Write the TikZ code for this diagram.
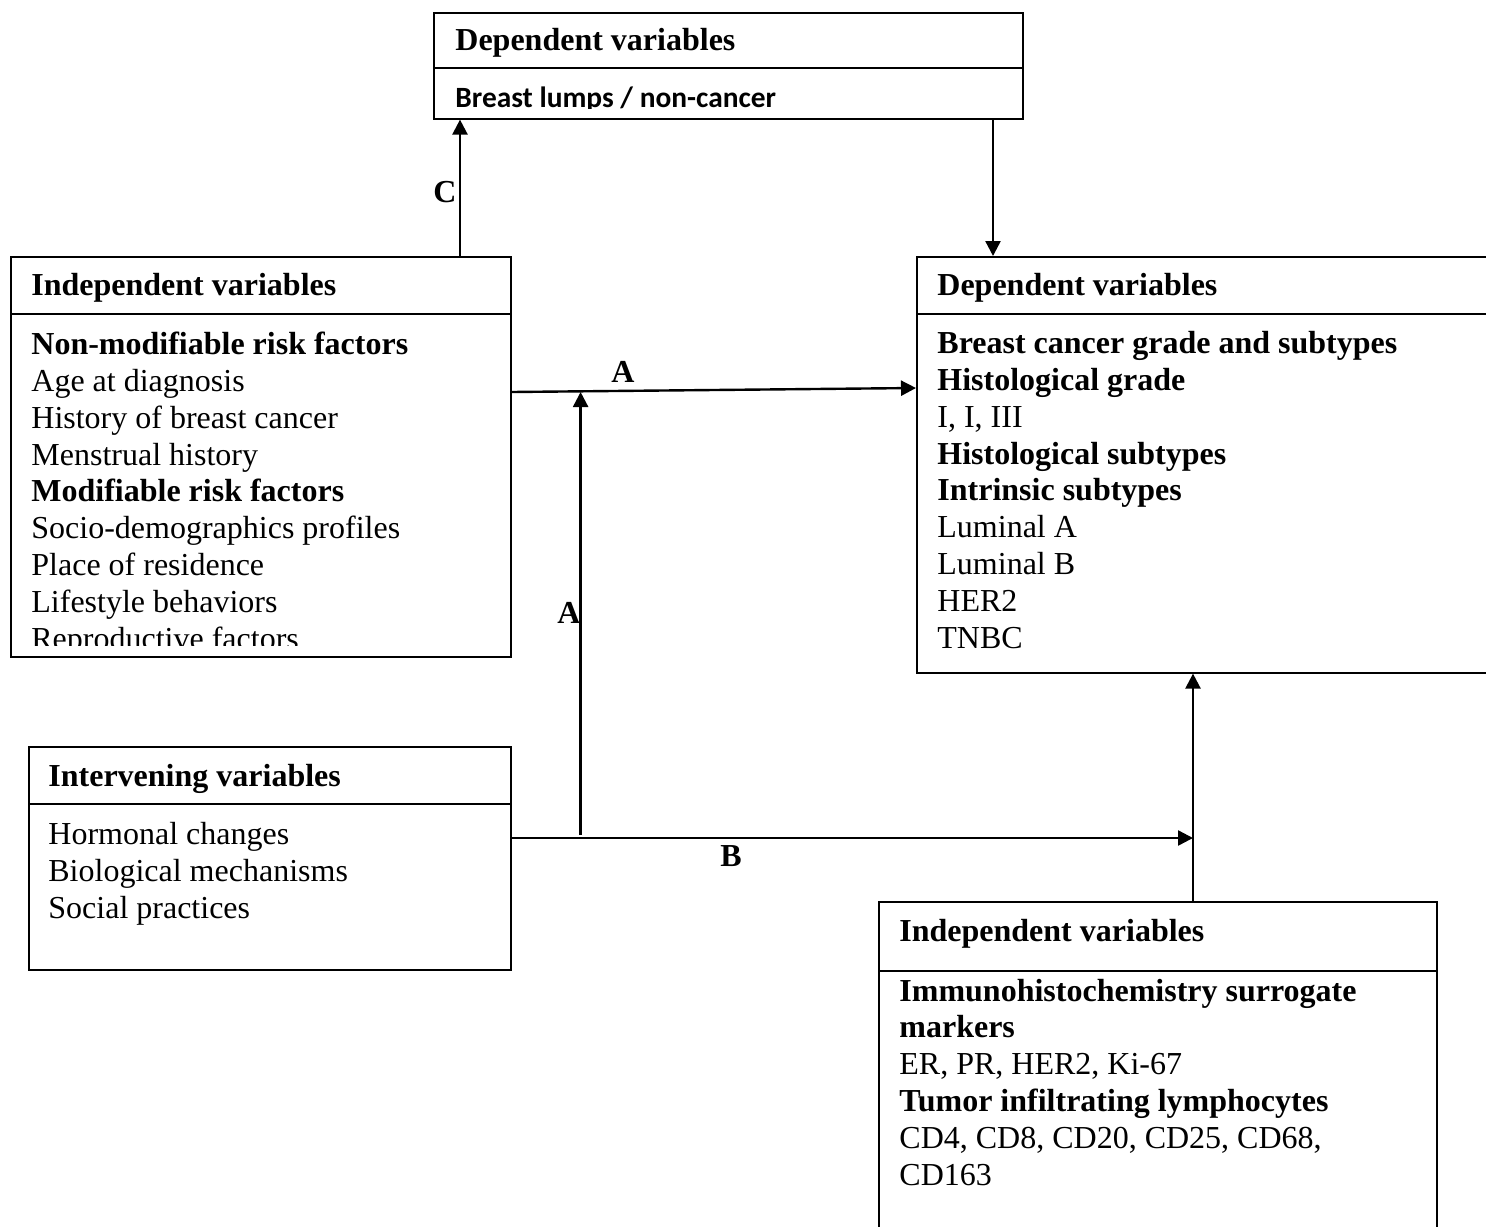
\documentclass[tikz,border=0pt]{standalone}
\usepackage{fontspec}
\setmainfont{Liberation Serif}
\newfontfamily\calib{Carlito}
\usetikzlibrary{arrows.meta,positioning}
\tikzset{
  box/.style={draw, line width=.8pt, anchor=north west, inner sep=0pt},
  txt/.style={anchor=base west, inner sep=0pt, align=left, font=\fontsize{16pt}{18.4pt}\selectfont},
  arr/.style={line width=1.2pt, -{Triangle[length=7.5pt,width=7.5pt]}},
  lab/.style={inner sep=0pt, font=\fontsize{16pt}{18pt}\selectfont\bfseries},
}
\begin{document}
\begin{tikzpicture}[x=.5pt, y=-.5pt]
\useasboundingbox (0,0) rectangle (1486,1226);
\clip (0,0) rectangle (1486,1226);

\node[box, minimum width=294.5pt, minimum height=53pt] (depTop) at (433,12) {};
\node[box, minimum width=250pt, minimum height=200pt] (indepL) at (10,256) {};
\node[box, minimum width=300pt, minimum height=208pt] (depR) at (916,256) {};
\node[box, minimum width=241pt, minimum height=111.5pt] (interv) at (28,746) {};
\node[box, minimum width=279pt, minimum height=200pt] (indepB) at (878,901) {};

\draw[line width=.8pt] (depTop.west |- 0,68) -- (depTop.east |- 0,68);
\draw[line width=.8pt] (indepL.west |- 0,314) -- (indepL.east |- 0,314);
\draw[line width=.8pt] (depR.west |- 0,314) -- (depR.east |- 0,314);
\draw[line width=.8pt] (interv.west |- 0,804) -- (interv.east |- 0,804);
\draw[line width=.8pt] (indepB.west |- 0,971) -- (indepB.east |- 0,971);

% last-line baselines
\node[txt] (depTopH) at (455,50) {\textbf{Dependent variables}};
\begin{scope}
\clip (433,68) rectangle (1022,108);
\node[txt, font=\calib\bfseries\fontsize{14.7pt}{16pt}\selectfont] (depTopB) at (455,107) {Breast lumps / non-cancer};
\end{scope}

\node[txt] (indepLH) at (31,295) {\textbf{Independent variables}};
\begin{scope}
\clip (10,314) rectangle (510,645);
\node[txt] (indepLB) at (31,649) {\textbf{Non-modifiable risk factors}\\
  Age at diagnosis\\
  History of breast cancer\\
  Menstrual history\\
  \textbf{Modifiable risk factors}\\
  Socio-demographics profiles\\
  Place of residence\\
  Lifestyle behaviors\\
  Reproductive factors};
\end{scope}

\node[txt] (depRH) at (937,295) {\textbf{Dependent variables}};
\node[txt] (depRB) at (937,648) {\textbf{Breast cancer grade and subtypes}\\
  \textbf{Histological grade}\\
  I, I, III\\
  \textbf{Histological subtypes}\\
  \textbf{Intrinsic subtypes}\\
  Luminal A\\
  Luminal B\\
  HER2\\
  TNBC};

\node[txt] (intervH) at (48,786) {\textbf{Intervening variables}};
\node[txt] (intervB) at (48,918) {Hormonal changes\\
  Biological mechanisms\\
  Social practices};

\node[txt] (indepBH) at (899,941) {\textbf{Independent variables}};
\node[txt] (indepBB) at (899,1185) {\textbf{Immunohistochemistry surrogate}\\
  \textbf{markers}\\
  ER, PR, HER2, Ki-67\\
  \textbf{Tumor infiltrating lymphocytes}\\
  CD4, CD8, CD20, CD25, CD68,\\
  CD163};

\coordinate (cX) at (460,0);
\coordinate (dX) at (993,0);
\path (indepL.north east) ++(0,136) coordinate (aL);
\path (depR.north west) ++(0,132) coordinate (aR);
\path (interv.north east) ++(0,92) coordinate (bL);
\path (bL) ++(69,-3) coordinate (aUp);
\path (indepB.north west) ++(315,0) coordinate (bUp);

\draw[arr] (cX |- indepL.north) -- (cX |- depTop.south);
\draw[arr] (dX |- depTop.south) -- (dX |- depR.north);
\draw[arr] (aL) -- (aR);
\draw[arr] (aUp) -- (aUp |- aL);
\draw[arr] (bL) -- (bL -| bUp);
\draw[arr] (bUp) -- (bUp |- depR.south);

\node[lab] (labC) at (445,192) {C};
\node[lab] (labA1) at (623,372) {A};
\node[lab] (labA2) at (569,613) {A};
\node[lab] (labB) at (731,856) {B};
\end{tikzpicture}
\end{document}
